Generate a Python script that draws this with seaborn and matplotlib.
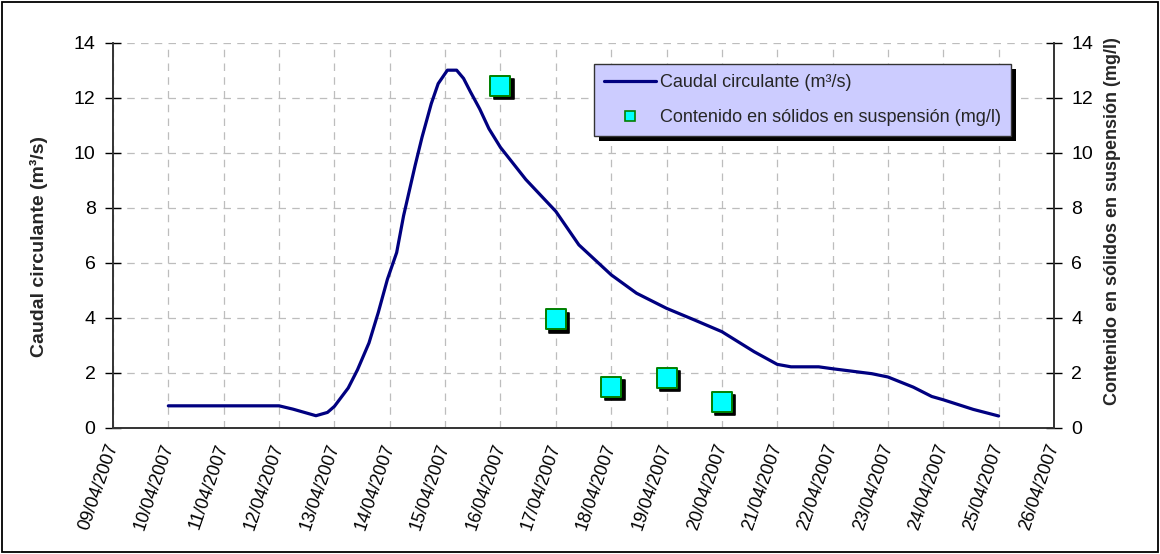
import matplotlib
matplotlib.use("Agg")
import matplotlib.pyplot as plt
import matplotlib.dates as mdates
import matplotlib.transforms as mtransforms
from matplotlib.patches import Rectangle
from matplotlib.lines import Line2D
import numpy as np
import pandas as pd
import seaborn as sns

# Flow record: hours elapsed since 10/04/2007 00:00 and discharge (m3/s)
flow_hours = [0, 24, 40, 48, 54, 64, 69, 72, 78, 82, 87, 91, 95, 99, 102, 107,
              110, 114, 117, 121, 125, 128, 131, 135, 139, 144, 155, 168, 178,
              192, 203, 216, 228, 240, 254, 264, 270, 282, 288, 305, 312, 323,
              331, 336, 349, 360]
flow_values = [0.79, 0.79, 0.79, 0.79, 0.67, 0.43, 0.55, 0.77, 1.44, 2.10,
               3.08, 4.18, 5.40, 6.37, 7.71, 9.54, 10.57, 11.79, 12.52, 13.01,
               13.01, 12.71, 12.22, 11.60, 10.88, 10.20, 9.03, 7.87, 6.65,
               5.56, 4.89, 4.34, 3.92, 3.49, 2.76, 2.30, 2.21, 2.21, 2.14,
               1.96, 1.84, 1.47, 1.13, 1.01, 0.66, 0.42]

# Suspended solids samples (mg/l)
sample_dates = ["2007-04-16", "2007-04-17", "2007-04-18", "2007-04-19", "2007-04-20"]
sample_values = [12.45, 3.94, 1.48, 1.81, 0.94]

line_label = "Caudal circulante (m³/s)"
marker_label = "Contenido en sólidos en suspensión (mg/l)"
left_ylabel = "Caudal circulante (m³/s)"
right_ylabel = "Contenido en sólidos en suspensión (mg/l)"

start = pd.Timestamp("2007-04-10")
flow = pd.DataFrame({
    "fecha": start + pd.to_timedelta(flow_hours, unit="h"),
    "caudal": flow_values,
})
samples = pd.DataFrame({
    "fecha": pd.to_datetime(sample_dates),
    "solidos": sample_values,
})

sns.set_style("white")
plt.rcParams["font.family"] = ["Liberation Sans", "DejaVu Sans"]
plt.rcParams["font.size"] = 13

fig = plt.figure(figsize=(11.6, 5.54), dpi=100)
ax = fig.add_axes([0.0974, 0.2283, 0.8112, 0.6941])
ax2 = ax.twinx()

line_color = "#000080"
sns.lineplot(data=flow, x="fecha", y="caudal", ax=ax, color=line_color,
             lw=2.3, legend=False)

# marker drop shadows, then the markers
sns.scatterplot(data=samples, x="fecha", y="solidos", ax=ax2, marker="s",
                s=215, color="black", edgecolor="black", linewidth=1.2,
                legend=False, zorder=3)
shadow_tf = mtransforms.offset_copy(ax2.transData, fig=fig, x=3.5, y=-3.5,
                                    units="dots")
ax2.collections[-1].set_offset_transform(shadow_tf)
sns.scatterplot(data=samples, x="fecha", y="solidos", ax=ax2, marker="s",
                s=215, color="#00FFFF", edgecolor="#008000", linewidth=1.4,
                legend=False, zorder=4)

x0 = pd.Timestamp("2007-04-09")
x1 = pd.Timestamp("2007-04-26")
for a in (ax, ax2):
    a.set_xlim(x0, x1)
    a.set_ylim(0, 14)
    a.set_yticks(np.arange(0, 15, 2))

ax.xaxis.set_major_locator(mdates.DayLocator())
ax.xaxis.set_major_formatter(mdates.DateFormatter("%d/%m/%Y"))
for lab in ax.get_xticklabels():
    lab.set_rotation(71)
    lab.set_ha("right")
    lab.set_va("center")
    lab.set_rotation_mode("anchor")

grid_kw = dict(color="#BDBDBD", linestyle=(0, (6, 5)), linewidth=0.9)
ax.grid(True, which="major", axis="both", **grid_kw)
ax.set_axisbelow(True)
ax2.grid(False)

ax.tick_params(axis="y", direction="inout", length=11, width=1, pad=7,
               colors="black", labelsize=14)
ax.tick_params(axis="x", direction="out", length=6, width=1, pad=6,
               colors="black", labelsize=13)
ax2.tick_params(axis="y", direction="inout", length=11, width=1, pad=7,
                colors="black", labelsize=14)

for a in (ax, ax2):
    for side in ("left", "right", "bottom"):
        a.spines[side].set_visible(True)
        a.spines[side].set_color("#333333")
        a.spines[side].set_linewidth(1.2)
    a.spines["top"].set_visible(False)

ax.set_xlabel("")
ax.set_ylabel(left_ylabel, fontweight="bold", fontsize=14)
ax.yaxis.set_label_coords(-0.069, 0.47)
ax2.set_ylabel(right_ylabel, fontweight="bold", fontsize=13)
ax2.yaxis.set_label_coords(1.053, 0.536)

handles = [
    Line2D([], [], color=line_color, lw=2.3),
    Line2D([], [], color="#00FFFF", marker="s", markersize=6.5,
           markeredgecolor="#008000", markeredgewidth=1.2, linestyle="none"),
]
leg = ax2.legend(handles, [line_label, marker_label], loc="upper left",
                 bbox_to_anchor=(0.511, 0.945), frameon=True, fancybox=False,
                 fontsize=13, handlelength=2.9, handletextpad=0.2,
                 labelspacing=1.0, borderpad=0.55, borderaxespad=0)
frame = leg.get_frame()
frame.set_facecolor("#CCCCFF")
frame.set_edgecolor("#333333")
frame.set_linewidth(1.0)
frame.set_alpha(1)
leg.set_zorder(6)

# legend drop shadow
fig.canvas.draw()
bb = leg.get_window_extent().transformed(ax2.transAxes.inverted())
ax_w = ax2.get_window_extent().width
ax_h = ax2.get_window_extent().height
dx, dy = 5 / ax_w, 5 / ax_h
ax2.add_patch(Rectangle((bb.x0 + dx, bb.y0 - dy), bb.width, bb.height,
                        transform=ax2.transAxes, facecolor="black",
                        edgecolor="none", zorder=5.5, clip_on=False))

# outer figure frame
fig.patches.append(Rectangle((0.0015, 0.003), 0.997, 0.993,
                             transform=fig.transFigure, fill=False,
                             edgecolor="black", linewidth=1.3))

fig.savefig("out.png", dpi=100, facecolor="white")
